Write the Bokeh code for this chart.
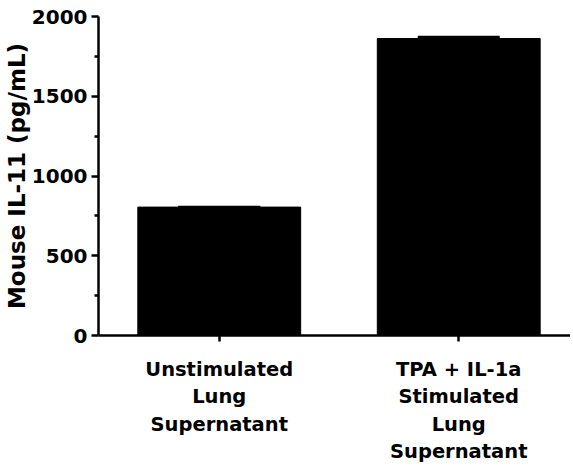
from bokeh.plotting import figure
from bokeh.models import ColumnDataSource, Range1d, FixedTicker, Whisker, TeeHead
from bokeh.embed import file_html
from bokeh.resources import INLINE

categories = ["Unstimulated\nLung\nSupernatant", "TPA + IL-1a\nStimulated\nLung\nSupernatant"]
values = [805, 1862]
errors = [1, 10]
y_ticks = [0, 500, 1000, 1500, 2000]
y_minor_ticks = [250, 750, 1250, 1750]

xs = [i + 1 for i in range(len(categories))]
src = ColumnDataSource(dict(
    x=xs, top=values,
    upper=[v + e for v, e in zip(values, errors)],
    lower=[v - e for v, e in zip(values, errors)],
))

FONT = "DejaVu Sans"

p = figure(width=570, height=466, output_backend="svg", toolbar_location=None,
           x_range=Range1d(0.4958, 2.4667), y_range=Range1d(0, 2000),
           min_border_left=97, min_border_right=0, min_border_top=16, min_border_bottom=131)
p.outline_line_color = None
p.xgrid.grid_line_color = None
p.ygrid.grid_line_color = None
p.background_fill_color = "white"
p.border_fill_color = "white"

p.vbar(x="x", top="top", width=0.68, bottom=0, source=src,
       fill_color="black", line_color="black")

w = Whisker(base="x", upper="upper", lower="lower", source=src,
            line_color="black", line_width=2.5,
            upper_head=TeeHead(size=82, line_color="black", line_width=2.5),
            lower_head=TeeHead(size=82, line_color="black", line_width=2.5))
p.add_layout(w)

# y axis
ya = p.yaxis[0]
ya.ticker = FixedTicker(ticks=y_ticks, minor_ticks=y_minor_ticks)
ya.axis_label = "Mouse IL-11 (pg/mL)"
ya.axis_label_text_font = FONT
ya.axis_label_text_font_style = "bold"
ya.axis_label_text_font_size = "23px"
ya.axis_label_text_color = "black"
ya.axis_label_standoff = -1
ya.major_label_text_font = FONT
ya.major_label_text_font_style = "bold"
ya.major_label_text_font_size = "20px"
ya.major_label_text_color = "black"
ya.major_label_standoff = 4
ya.axis_line_width = 2.5
ya.axis_line_color = "black"
ya.major_tick_line_width = 2.5
ya.major_tick_line_color = "black"
ya.major_tick_out = 7
ya.major_tick_in = 0
ya.minor_tick_line_width = 2.5
ya.minor_tick_line_color = "black"
ya.minor_tick_out = 4
ya.minor_tick_in = 0

# x axis
xa = p.xaxis[0]
xa.ticker = FixedTicker(ticks=xs)
xa.major_label_overrides = {x: c for x, c in zip(xs, categories)}
xa.major_label_text_font = FONT
xa.major_label_text_font_style = "bold"
xa.major_label_text_font_size = "19.5px"
xa.major_label_text_color = "black"
xa.major_label_standoff = 16
xa.axis_line_width = 2.5
xa.axis_line_color = "black"
xa.major_tick_line_width = 2.5
xa.major_tick_line_color = "black"
xa.major_tick_out = 6
xa.major_tick_in = 0
xa.minor_tick_line_color = None

open("out.html", "w").write(file_html(p, INLINE))
